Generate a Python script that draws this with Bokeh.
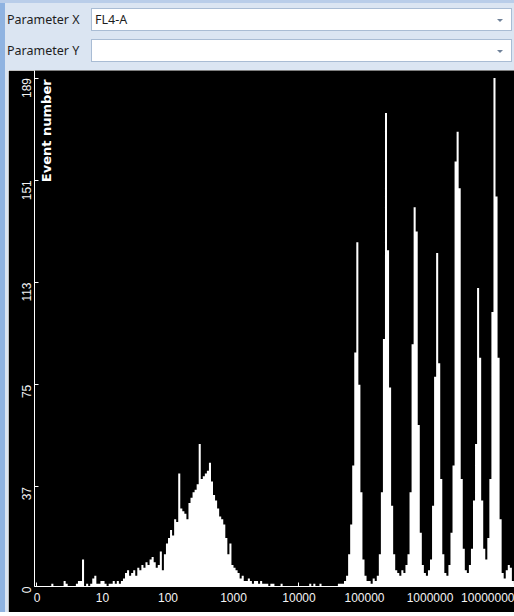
import math
from bokeh.plotting import figure
from bokeh.models import Div, FixedTicker, Label, ColumnDataSource
from bokeh.layouts import column, row
from bokeh.embed import file_html
from bokeh.resources import INLINE

# ---- data ----
# histogram of FL4-A on a log10 axis, 32 bins per decade, starting at 10^0
bins_per_decade = 32
counts = [
    # decade 1-10
    0, 0, 0, 0, 0, 0, 0, 1, 0, 0, 0, 0, 0, 2, 1, 0, 0, 0, 0, 1, 2, 2, 10, 0, 1, 0, 1, 3, 4, 1, 1, 2,
    # decade 10-100
    2, 1, 0, 1, 1, 2, 1, 2, 1, 2, 3, 5, 6, 4, 5, 6, 4, 7, 6, 8, 7, 9, 8, 10, 11, 9, 7, 8, 13, 6, 12, 16,
    # decade 100-1000
    18, 21, 19, 25, 24, 42, 29, 28, 27, 25, 31, 33, 35, 36, 38, 53, 40, 41, 42, 43, 46, 39, 34, 32, 29, 26, 25, 23, 18, 12, 16, 8,
    # decade 1000-10000
    7, 6, 5, 3, 4, 2, 2, 3, 2, 1, 2, 2, 1, 2, 1, 1, 1, 0, 1, 1, 0, 0, 0, 1, 0, 0, 0, 0, 0, 0, 0, 0,
    # decade 10000-100000
    0, 0, 0, 0, 0, 1, 0, 1, 0, 0, 1, 0, 0, 0, 0, 0, 0, 0, 0, 1, 1, 1, 2, 4, 12, 23, 45, 87, 128, 75, 35, 10,
    # decade 100000-1000000
    4, 2, 2, 1, 3, 2, 4, 12, 35, 92, 176, 125, 74, 30, 12, 6, 5, 4, 6, 5, 8, 12, 35, 90, 141, 132, 60, 20, 8, 5, 4, 6,
    # decade 1000000-10000000
    10, 30, 78, 124, 83, 40, 12, 5, 4, 8, 20, 45, 158, 169, 148, 40, 14, 6, 5, 8, 14, 32, 53, 111, 85, 32, 14, 10, 18, 40, 102, 189,
    # beyond 10^7
    145, 85, 25, 5, 3, 6, 8, 7, 2, 1,
]
y_ticks = [0, 37, 75, 113, 151, 189]
x_ticks = [0, 1, 2, 3, 4, 5, 6, 7]
x_tick_labels = ["0", "10", "100", "1000", "10000", "100000", "1000000", "10000000"]
param_x = "FL4-A"
param_y = ""

# ---- build histogram source (step outline, bin edges in log10 units) ----
w = 1.0 / bins_per_decade
edges = [i * w for i in range(len(counts) + 1)]
src = ColumnDataSource(dict(x=edges, y=counts + [counts[-1]]))

TICK_FONT = "Liberation Sans"
FONT = "DejaVu Sans"

p = figure(width=506, height=542, output_backend="svg", toolbar_location=None,
           x_range=(-0.038, 7.29), y_range=(0, 191.8),
           background_fill_color="black", border_fill_color="black",
           min_border_left=26, min_border_bottom=26, min_border_top=0, min_border_right=0,
           margin=0)
p.outline_line_color = None
p.grid.visible = False

p.varea_step(x="x", y1=0, y2="y", step_mode="after", source=src, fill_color="white")

# axes
p.xaxis.ticker = FixedTicker(ticks=x_ticks)
p.xaxis.major_label_overrides = {t: l for t, l in zip(x_ticks, x_tick_labels)}
p.yaxis.ticker = FixedTicker(ticks=y_ticks)
for ax in (p.xaxis, p.yaxis):
    ax.axis_line_color = "white"
    ax.major_tick_line_color = "white"
    ax.minor_tick_line_color = None
    ax.major_label_text_color = "#f4f4f4"
    ax.major_label_text_font = TICK_FONT
    ax.major_label_text_font_size = "12px"
    ax.major_tick_in = 4
    ax.major_tick_out = 0
p.xaxis.major_label_standoff = 6
p.yaxis.major_label_standoff = 8
p.yaxis.major_label_orientation = math.pi / 2

p.add_layout(Label(x=0.14, y=188.5, text="Event number", angle=math.pi / 2,
                   text_align="right", text_baseline="middle",
                   text_color="white", text_font=FONT, text_font_style="bold",
                   text_font_size="13px"))

# ---- surrounding UI ----
BG = "#dbe5f2"
STRIP = "#8fb3e1"
arrow = ('<div style="position:absolute;right:8px;top:10px;width:0;height:0;'
         'border-left:3px solid transparent;border-right:3px solid transparent;'
         'border-top:3px solid #6f8199"></div>')


def combo(top, label, val):
    return (f'<span style="position:absolute;left:7px;top:{top + 3}px">{label}</span>'
            f'<div style="position:absolute;left:91px;top:{top}px;width:421px;height:23px;'
            f'background:#ffffff;border:1px solid #a9bcd4;box-sizing:border-box">'
            f'<span style="position:absolute;left:3px;top:2px">{val}</span>{arrow}</div>')


top_html = (f'<div style="position:relative;width:514px;height:70px;background:{BG};'
            f'font-family:\'Noto Sans\',sans-serif;font-size:12.5px;color:#1e1e1e;overflow:hidden">'
            f'<div style="position:absolute;left:0;top:0;width:5px;height:70px;background:{STRIP}"></div>'
            f'<div style="position:absolute;left:0;top:0;width:514px;height:3px;background:#b9cde9"></div>'
            + combo(8, "Parameter X", param_x) + combo(39, "Parameter Y", param_y) +
            '</div>')
top_div = Div(text=top_html, width=514, height=70, margin=0)

left_div = Div(text=(f'<div style="position:relative;width:8px;height:542px;background:{BG}">'
                     f'<div style="position:absolute;left:0;top:0;width:5px;height:542px;background:{STRIP}"></div></div>'),
               width=8, height=542, margin=0)
bottom_div = Div(text=(f'<div style="position:relative;width:514px;height:4px;background:{BG}">'
                       f'<div style="position:absolute;left:0;top:0;width:5px;height:4px;background:{STRIP}"></div></div>'),
                 width=514, height=4, margin=0)

layout = column(top_div, row(left_div, p, spacing=0, margin=0), bottom_div, spacing=0, margin=0)

with open("out.html", "w") as f:
    f.write(file_html(layout, INLINE))
